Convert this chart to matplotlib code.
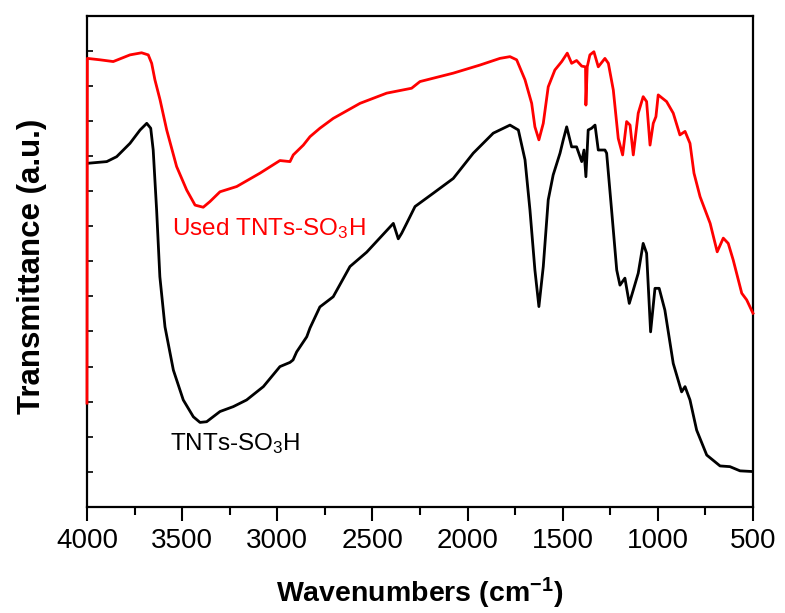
import matplotlib
matplotlib.use("Agg")
import matplotlib.pyplot as plt
from matplotlib.ticker import MultipleLocator, NullFormatter

plt.rcParams["font.family"] = ["Liberation Sans", "DejaVu Sans"]
plt.rcParams["mathtext.fontset"] = "custom"
plt.rcParams["mathtext.rm"] = "Liberation Sans"
plt.rcParams["mathtext.default"] = "regular"

# TNTs-SO3H (black)
wn_fresh = [4000, 3896, 3844, 3774, 3721, 3686, 3665, 3652, 3634, 3617, 3590, 3546, 3494, 3441,
            3406, 3371, 3301, 3231, 3161, 3073, 2986, 2933, 2917, 2898, 2845, 2828, 2776, 2706,
            2618, 2530, 2390, 2364, 2346, 2320, 2276, 2180, 2075, 1970, 1865, 1777, 1733, 1698,
            1672, 1646, 1625, 1602, 1576, 1550, 1514, 1497, 1479, 1453, 1427, 1400, 1388, 1378,
            1366, 1348, 1330, 1313, 1278, 1269, 1243, 1216, 1199, 1173, 1150, 1129, 1103, 1077,
            1059, 1038, 1015, 993, 963, 919, 875, 857, 831, 796, 743, 673, 621, 568, 500]
t_fresh = [9.79, 9.84, 9.98, 10.36, 10.74, 10.93, 10.79, 10.17, 8.46, 6.56, 5.13, 3.90, 3.05, 2.57,
           2.41, 2.43, 2.72, 2.86, 3.05, 3.43, 4.00, 4.12, 4.19, 4.42, 4.85, 5.10, 5.70, 5.99,
           6.85, 7.26, 8.08, 7.64, 7.80, 8.08, 8.56, 8.94, 9.36, 10.08, 10.65, 10.88, 10.74, 9.89,
           8.46, 6.75, 5.71, 6.85, 8.75, 9.46, 10.08, 10.46, 10.83, 10.26, 10.26, 9.84, 10.17, 9.41,
           10.74, 10.79, 10.88, 10.17, 10.17, 10.08, 8.46, 6.75, 6.32, 6.52, 5.80, 6.18, 6.66, 7.51,
           7.23, 4.99, 6.23, 6.23, 5.61, 4.09, 3.28, 3.43, 3.05, 2.19, 1.48, 1.17, 1.15, 1.03, 1.01]

# Used TNTs-SO3H (red)
wn_used = [4000, 3998, 3932, 3862, 3774, 3713, 3678, 3660, 3643, 3616, 3581, 3529, 3476, 3432,
           3389, 3354, 3301, 3213, 3091, 2986, 2933, 2916, 2863, 2828, 2776, 2706, 2565, 2425,
           2294, 2250, 2075, 1935, 1830, 1777, 1742, 1698, 1663, 1646, 1625, 1602, 1576, 1541,
           1505, 1476, 1453, 1427, 1400, 1380, 1378, 1371, 1357, 1336, 1313, 1278, 1260, 1234,
           1208, 1185, 1164, 1146, 1129, 1103, 1077, 1059, 1041, 1024, 1010, 998, 954, 919,
           884, 857, 831, 810, 778, 725, 688, 656, 630, 604, 559, 533, 500]
t_used = [2.96, 12.78, 12.74, 12.69, 12.88, 12.94, 12.88, 12.64, 12.17, 11.60, 10.74, 9.70, 9.03, 8.60,
          8.54, 8.70, 8.98, 9.13, 9.51, 9.87, 9.84, 10.03, 10.31, 10.55, 10.79, 11.07, 11.50, 11.79,
          11.93, 12.12, 12.36, 12.59, 12.78, 12.83, 12.74, 12.17, 11.50, 10.83, 10.46, 10.93, 11.97, 12.45,
          12.69, 12.93, 12.64, 12.72, 12.56, 12.54, 11.45, 12.54, 12.88, 12.97, 12.54, 12.78, 12.64, 11.88,
          10.50, 10.03, 10.98, 10.88, 10.03, 11.22, 11.69, 11.55, 10.31, 10.93, 11.12, 11.74, 11.55, 11.22,
          10.60, 10.70, 10.36, 9.51, 8.84, 8.08, 7.27, 7.66, 7.51, 7.04, 6.09, 5.90, 5.52]

fig = plt.figure(figsize=(7.85, 6.13), dpi=100)
ax = fig.add_axes([0.1108, 0.1729, 0.8484, 0.8017])

ax.plot(wn_fresh, t_fresh, color="black", lw=2)
ax.plot(wn_used, t_used, color="red", lw=2, clip_on=False, zorder=3)

ax.text(3553, 7.75, "Used TNTs-SO$_3$H", color="red", fontsize=17.5, va="baseline")
ax.text(3564, 1.62, "TNTs-SO$_3$H", color="black", fontsize=17.5, va="baseline")

ax.set_xlim(4000, 500)
ax.set_ylim(0, 14)
ax.xaxis.set_major_locator(MultipleLocator(500))
ax.xaxis.set_minor_locator(MultipleLocator(250))
ax.yaxis.set_major_locator(MultipleLocator(1))
ax.yaxis.set_major_formatter(NullFormatter())
ax.tick_params(axis="x", which="major", direction="out", length=10, width=1.5, labelsize=20, pad=5)
ax.tick_params(axis="x", which="minor", direction="out", length=6, width=1.5)
ax.tick_params(axis="y", which="major", direction="in", length=4, width=1.2)
for s in ax.spines.values():
    s.set_linewidth(1.6)

ax.set_xlabel("Wavenumbers (cm$^{-1}$)", fontsize=20.5, fontweight="bold")
ax.xaxis.set_label_coords(0.5, -0.14)
fig.text(32 / 785, 1 - 266 / 613, "Transmittance (a.u.)", rotation=90, ha="center", va="center",
         fontsize=22.5, fontweight="bold")

fig.savefig("out.png", dpi=100)
